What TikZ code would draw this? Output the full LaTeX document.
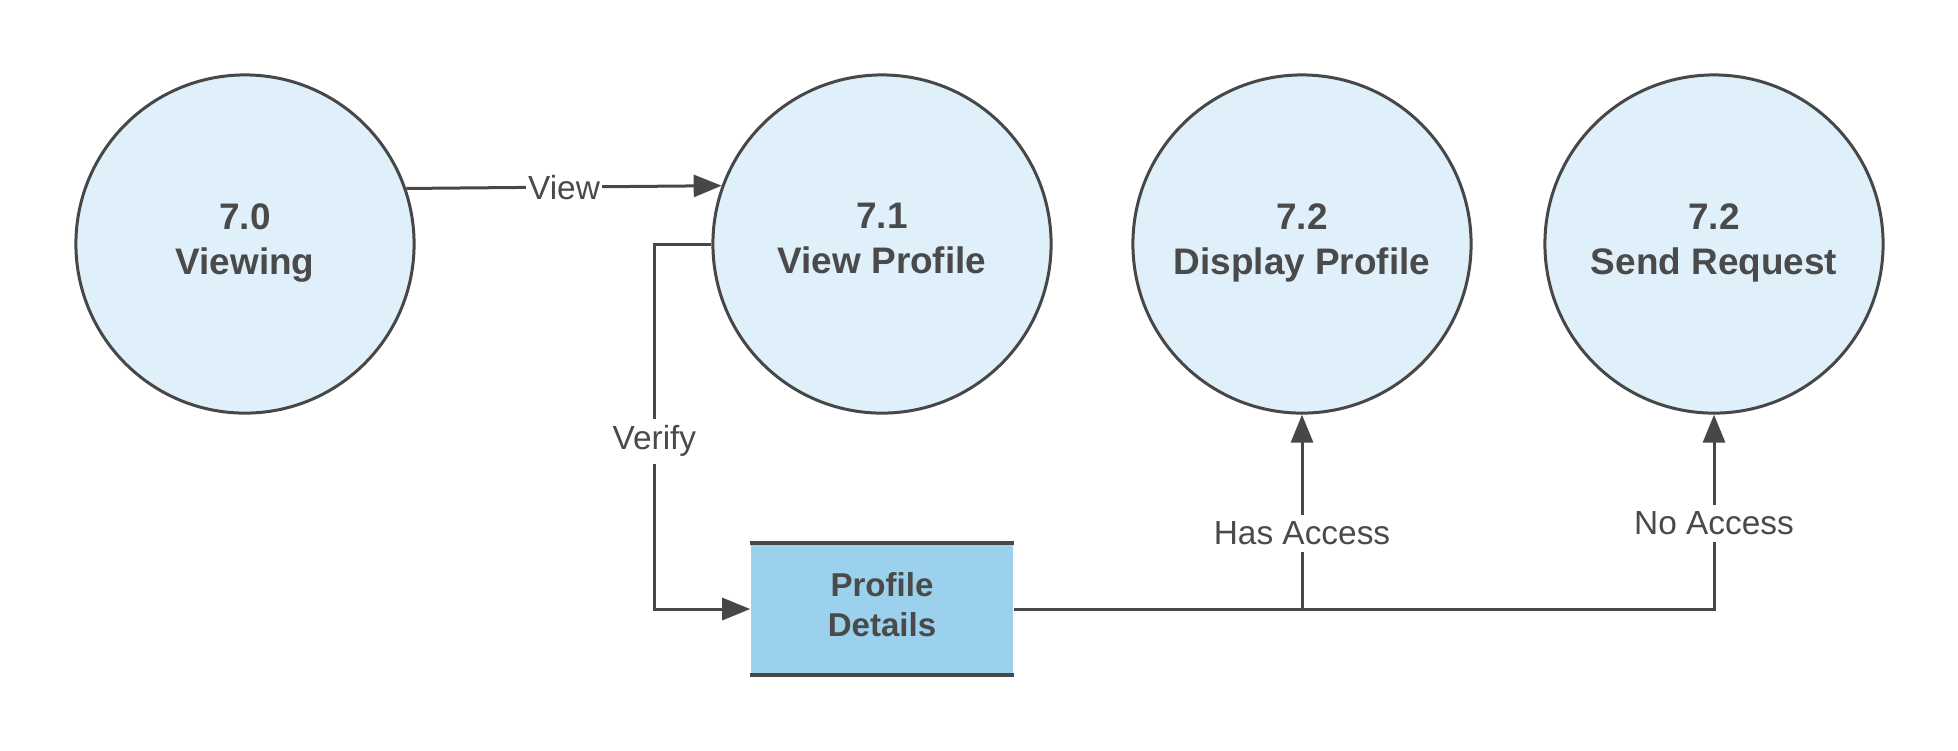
\documentclass[tikz,border=0pt]{standalone}
\usepackage{fontspec}
\setmainfont{Liberation Sans}
\usetikzlibrary{arrows.meta}
\definecolor{linegray}{HTML}{474747}
\definecolor{textgray}{HTML}{4A4A4A}
\definecolor{bubble}{HTML}{DFF0FA}
\definecolor{store}{HTML}{9BD1EC}

\begin{document}
\begin{tikzpicture}[x=0.01cm,y=-0.01cm,
        process/.style={circle,draw=linegray,fill=bubble,line width=0.03cm,minimum size=3.38cm,align=center,text depth=3pt,text=textgray,font=\fontsize{10.5}{12.8}\selectfont\bfseries},
        flow/.style={draw=linegray,line width=0.03cm,-{Triangle[length=0.28cm,width=0.22cm]}},
        flowlabel/.style={fill=white,text=textgray,inner xsep=0.5pt,inner ysep=2pt,font=\fontsize{9.5}{11}\selectfont}]
                \useasboundingbox (0,0) rectangle (1958,750);
                % processes
                \node[process] (viewing) at (245,244) {7.0\\Viewing};
                \node[process] (viewprofile) at (882,244) {7.1\\View Profile};
                \node[process] (display) at (1302,244) {7.2\\Display Profile};
                \node[process] (request) at (1714,244) {7.2\\Send Request};
                % data store
                \node[fill=store,minimum width=2.62cm,minimum height=1.31cm,text depth=2.8pt,text=textgray,align=center,font=\fontsize{9.4}{11.4}\selectfont\bfseries] (details) at (882,609) {Profile\\Details};
                \draw[linegray,line width=0.04cm] (details.north west) -- (details.north east) (details.south west) -- (details.south east);

                \draw[flow] (viewing.19.7) -- (viewprofile.160.3) node[flowlabel,pos=.5] {View};
                \draw[flow] (viewprofile.west) -- ++(-57,0) |- (details.west) node[flowlabel,pos=.27] {Verify};
                \draw[flow] (details.east -| display.south) -- (display.south) node[flowlabel,pos=.39] {Has Access};
                \draw[flow] (details.east) -| (request.south) node[flowlabel,pos=.72] {No Access};
            \end{tikzpicture}
\end{document}
